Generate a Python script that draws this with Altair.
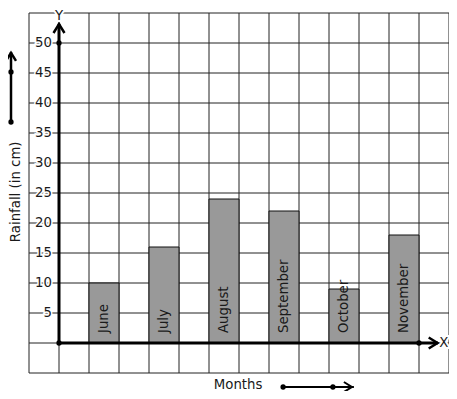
import altair as alt
import pandas as pd

months = ["June", "July", "August", "September", "October", "November"]
rainfall = [10, 16, 24, 22, 9, 18]
y_tick_values = [5, 10, 15, 20, 25, 30, 35, 40, 45, 50]
grid_x = list(range(-1, 14))
grid_y = list(range(-5, 56, 5))

FONT = "DejaVu Sans"
FS = 13.3
TXT = "#1a1a1a"

bars = pd.DataFrame({
    "month": months,
    "rain": rainfall,
    "zero": [0] * len(months),
    "x0": [1 + 2 * i for i in range(len(months))],
    "x1": [2 + 2 * i for i in range(len(months))],
    "xc": [1.5 + 2 * i for i in range(len(months))],
})

xs = alt.Scale(domain=[-1, 13], nice=False, zero=False)
ys = alt.Scale(domain=[-5, 55], nice=False, zero=False)

def X(f):
    return alt.X(f + ":Q", scale=xs, axis=None)

def Y(f):
    return alt.Y(f + ":Q", scale=ys, axis=None)

vgrid = alt.Chart(pd.DataFrame({"g": grid_x, "a": -5, "b": 55})).mark_rule(color="#222", strokeWidth=1).encode(
    x=X("g"), y=Y("a"), y2="b:Q"
)
hgrid = alt.Chart(pd.DataFrame({"g": grid_y, "a": -1, "b": 13})).mark_rule(color="#222", strokeWidth=1).encode(
    y=Y("g"), x=X("a"), x2="b:Q"
)

rects = alt.Chart(bars).mark_rect(fill="#999999", stroke="#111", strokeWidth=1).encode(
    x=X("x0"), x2="x1:Q", y=Y("zero"), y2="rain:Q"
)
bar_labels = alt.Chart(bars).mark_text(
    angle=270, align="left", baseline="middle", dx=10, font=FONT, fontSize=FS, color=TXT
).encode(x=X("xc"), y=Y("zero"), text="month:N")

ydf = pd.DataFrame({"v": y_tick_values, "z": 0})
ylab_halo = alt.Chart(ydf).mark_text(
    align="right", baseline="middle", dx=-7, font=FONT, fontSize=FS,
    color="white", stroke="white", strokeWidth=3
).encode(x=X("z"), y=Y("v"), text="v:Q")
ylab = alt.Chart(ydf).mark_text(
    align="right", baseline="middle", dx=-7, font=FONT, fontSize=FS, color=TXT
).encode(x=X("z"), y=Y("v"), text="v:Q")

def line(x1, y1, x2, y2, w=3):
    d = pd.DataFrame({"x1": [x1], "y1": [y1], "x2": [x2], "y2": [y2]})
    return alt.Chart(d).mark_rule(color="black", strokeWidth=w).encode(
        x=X("x1"), y=Y("y1"), x2="x2:Q", y2="y2:Q"
    )

UP = "M -1 0.8 L 0 -0.8 L 1 0.8"
RIGHT = "M -0.8 -1 L 0.8 0 L -0.8 1"

def head(x, y, shape, size=121, w=2.5):
    d = pd.DataFrame({"x": [x], "y": [y]})
    return alt.Chart(d).mark_point(shape=shape, filled=False, stroke="black", strokeWidth=w, size=size, opacity=1).encode(
        x=X("x"), y=Y("y")
    )

def dots(xy):
    d = pd.DataFrame({"x": [p[0] for p in xy], "y": [p[1] for p in xy]})
    return alt.Chart(d).mark_point(shape="circle", filled=True, color="black", size=28, opacity=1).encode(
        x=X("x"), y=Y("y")
    )

def label(x, y, t, angle=0, halo=False, align="center"):
    d = pd.DataFrame({"x": [x], "y": [y], "t": [t]})
    kw = dict(align=align, baseline="middle", font=FONT, fontSize=FS)
    if angle:
        kw["angle"] = angle
    layers = []
    if halo:
        layers.append(alt.Chart(d).mark_text(color="white", stroke="white", strokeWidth=4, **kw).encode(
            x=X("x"), y=Y("y"), text="t:N"))
    layers.append(alt.Chart(d).mark_text(color=TXT, **kw).encode(
        x=X("x"), y=Y("y"), text="t:N"))
    return layers

decor = [
    line(0, 0, 0, 53.2),
    line(0, 0, 12.63, 0),
    head(0, 52.4, UP),
    head(12.47, 0, RIGHT),
    dots([(0, 0), (0, 50), (12, 0)]),
    # left arrow
    line(-1.6, 36.83, -1.6, 48.5, w=2.5),
    head(-1.6, 47.7, UP, size=100),
    dots([(-1.6, 36.83), (-1.6, 45.17)]),
    # bottom arrow
    line(7.47, -7.33, 9.83, -7.33, w=2),
    head(9.63, -7.33, RIGHT, size=100, w=2),
    dots([(7.47, -7.33), (9.13, -7.33)]),
]
texts = (label(0, 54.5, "Y", halo=True) + label(12.83, 0, "X", halo=True)
         + label(5.97, -7, "Months") + label(-1.42, 25.2, "Rainfall (in cm)", angle=270))

chart = alt.layer(vgrid, hgrid, rects, bar_labels, ylab_halo, ylab, *decor, *texts).properties(
    width=420, height=360,
    padding={"left": 21, "top": 5, "right": 0, "bottom": 18},
    autosize=alt.AutoSizeParams(type="none"),
).configure_view(stroke=None)

chart.save("out.html", embed_options={"renderer": "svg", "actions": False})
